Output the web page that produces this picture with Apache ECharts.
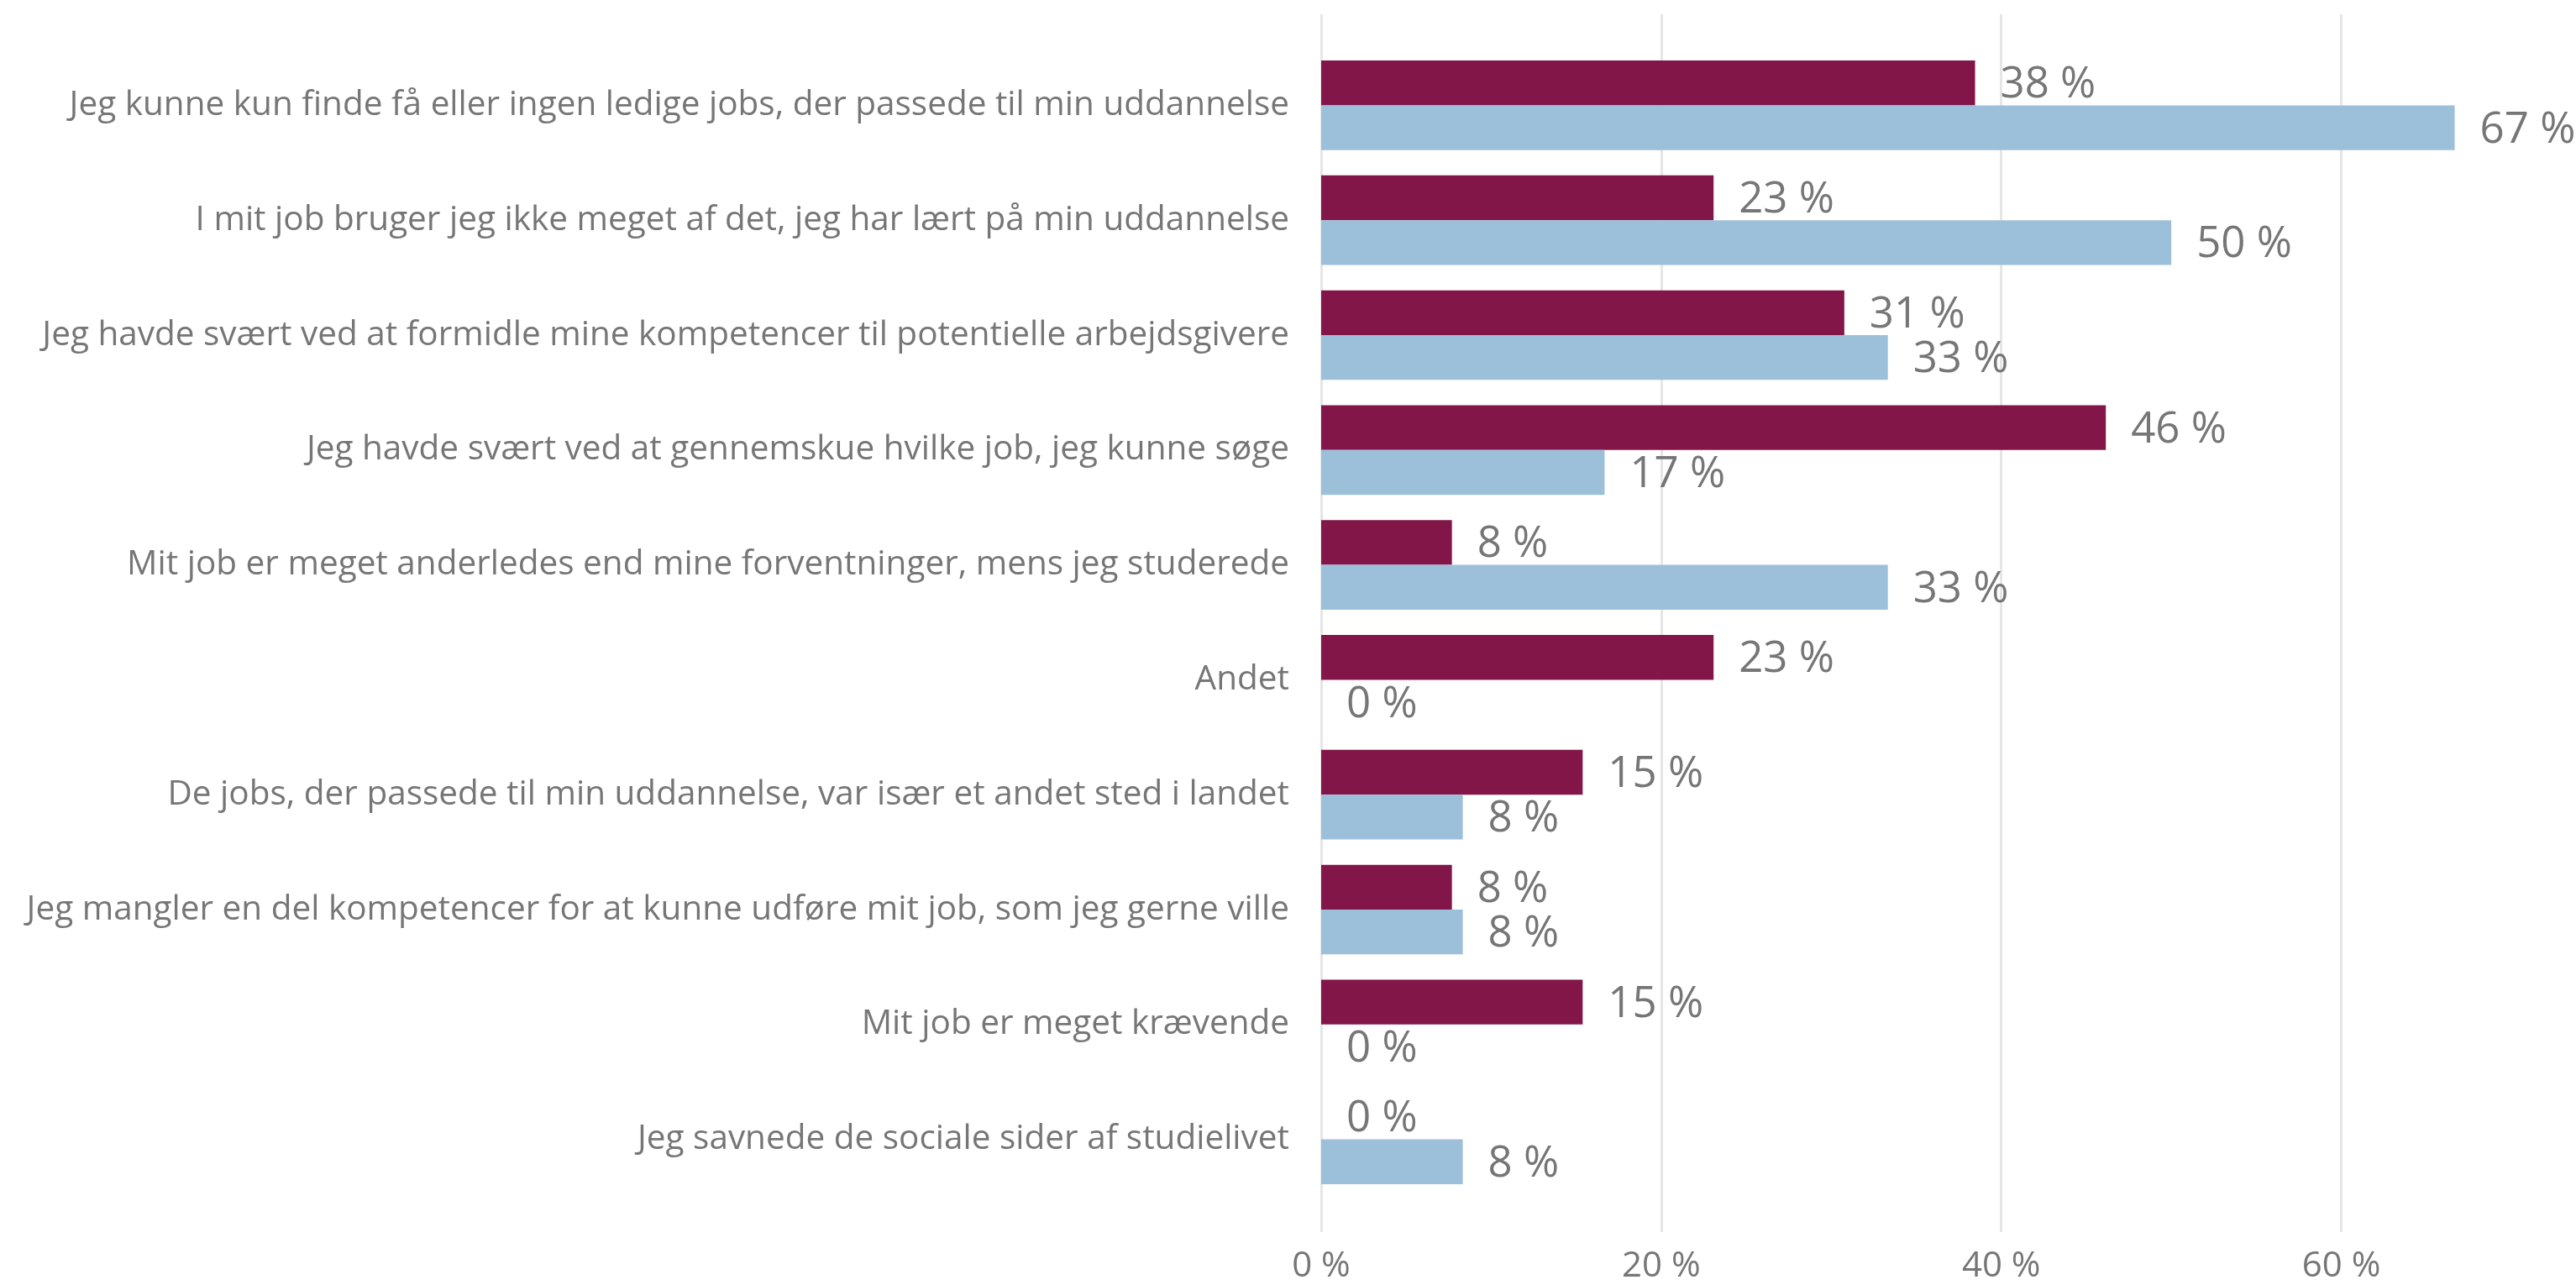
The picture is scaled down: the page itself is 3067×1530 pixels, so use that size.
<!DOCTYPE html>
<html>
<head>
<meta charset="utf-8">
<script src="https://cdn.jsdelivr.net/npm/echarts@6/dist/echarts.min.js"></script>
<style>html,body{margin:0;padding:0;background:#fff}#c{width:3067px;height:1530px}</style>
</head>
<body>
<div id="c"></div>
<script>
const categories = [
  "Jeg kunne kun finde få eller ingen ledige jobs, der passede til min uddannelse",
  "I mit job bruger jeg ikke meget af det, jeg har lært på min uddannelse",
  "Jeg havde svært ved at formidle mine kompetencer til potentielle arbejdsgivere",
  "Jeg havde svært ved at gennemskue hvilke job, jeg kunne søge",
  "Mit job er meget anderledes end mine forventninger, mens jeg studerede",
  "Andet",
  "De jobs, der passede til min uddannelse, var især et andet sted i landet",
  "Jeg mangler en del kompetencer for at kunne udføre mit job, som jeg gerne ville",
  "Mit job er meget krævende",
  "Jeg savnede de sociale sider af studielivet"
];
const seriesA = [38.46, 23.08, 30.77, 46.15, 7.69, 23.08, 15.38, 7.69, 15.38, 0];
const seriesB = [66.67, 50.00, 33.33, 16.67, 33.33, 0, 8.33, 8.33, 0, 8.33];
const xTicks = [0, 20, 40, 60];

const FONT = '"Open Sans", "Noto Sans", sans-serif';
const GRAY = '#767676';
const chart = echarts.init(document.getElementById('c'), null, {renderer: 'canvas'});
const labelCfg = {
  show: true, position: 'right', distance: 30, offset: [0, 3],
  color: GRAY, fontSize: 51, fontFamily: FONT,
  formatter: p => Math.round(p.value) + ' %'
};
chart.setOption({
  animation: false,
  backgroundColor: '#fff',
  grid: [
    {left: 1573, top: 57, width: 1417, height: 1368, containLabel: false, outerBoundsMode: 'none'},
    {left: 1573, top: 17, width: 1417, height: 1450, containLabel: false, outerBoundsMode: 'none'}
  ],
  xAxis: [
    {gridIndex: 0, type: 'value', min: 0, max: 70, interval: 20, show: false, splitLine: {show: false}},
    {gridIndex: 1, type: 'value', min: 0, max: 70, interval: 20,
     axisLine: {show: false}, axisTick: {show: false},
     splitLine: {show: true, lineStyle: {width: 3, color: ['#e6e6e6','#e6e6e6','#e6e6e6','#e6e6e6','rgba(0,0,0,0)']}},
     axisLabel: {color: GRAY, fontSize: 42, fontFamily: FONT, margin: 20,
       formatter: v => xTicks.indexOf(v) >= 0 ? v + ' %' : ''}}
  ],
  yAxis: [
    {gridIndex: 0, type: 'category', data: categories, inverse: true,
     axisLine: {show: false}, axisTick: {show: false}, splitLine: {show: false},
     axisLabel: {color: GRAY, fontSize: 40.5, fontFamily: FONT, margin: 38}},
    {gridIndex: 1, type: 'value', min: 0, max: 1, show: false, splitLine: {show: false}}
  ],
  series: [
    {type: 'bar', xAxisIndex: 0, yAxisIndex: 0, data: seriesA, barGap: '0%', barCategoryGap: '22%',
     itemStyle: {color: '#821649'}, label: labelCfg},
    {type: 'bar', xAxisIndex: 0, yAxisIndex: 0, data: seriesB, barGap: '0%', barCategoryGap: '22%',
     itemStyle: {color: '#9dc0da'}, label: labelCfg}
  ]
});
</script>
</body>
</html>
